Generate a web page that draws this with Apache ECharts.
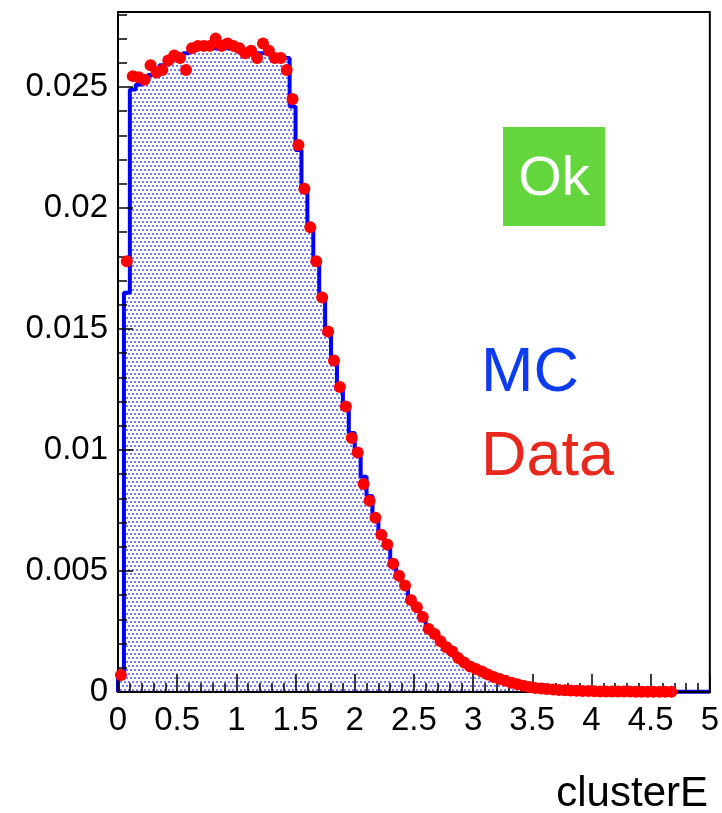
<!DOCTYPE html>
<html>
<head>
<meta charset="utf-8">
<script src="https://cdn.jsdelivr.net/npm/echarts@6/dist/echarts.min.js"></script>
<style>
  html, body { margin: 0; padding: 0; background: #fff; }
  #chart { width: 722px; height: 813px; }
</style>
</head>
<body>
<div id="chart"></div>
<script>
// 100 bins of width 0.05 from 0 to 5
const binWidth = 0.05;
const xTicks = [0, 0.5, 1, 1.5, 2, 2.5, 3, 3.5, 4, 4.5, 5];

const mcValues = [
    0.0006, 0.0165, 0.0249, 0.0251, 0.0253, 0.0255, 0.0257, 0.0259, 0.0261, 0.0262,
    0.0263, 0.0264, 0.0265, 0.0266, 0.0266, 0.0266, 0.0266, 0.0266, 0.0266, 0.0266,
    0.0265, 0.0265, 0.0265, 0.0264, 0.0264, 0.0264, 0.0263, 0.0263, 0.0262, 0.0242,
    0.0224, 0.0208, 0.0193, 0.0178, 0.0164, 0.0150, 0.0138, 0.0127, 0.0118, 0.0107,
    0.0098, 0.0089, 0.0081, 0.0073, 0.0066, 0.0060, 0.0054, 0.0048, 0.0043, 0.0039,
    0.0035, 0.0031, 0.0027, 0.0024, 0.0021, 0.0018, 0.0016, 0.0014, 0.0012, 0.00105,
    0.00092, 0.0008, 0.0007, 0.0006, 0.00052, 0.00044, 0.00037, 0.00031, 0.00026, 0.00022,
    0.00018, 0.00015, 0.00012, 0.0001, 0.00008, 0.00007, 0.00006, 0.00005, 0.00004, 0.00004,
    0.00003, 0.00003, 0.00003, 0.00002, 0.00002, 0.00002, 0.00002, 0.00002, 0.00002, 0.00002,
    0.00001, 0.00001, 0.00001, 0.00001, 0.00001, 0.00001, 0.00001, 0.00001, 0.00001, 0.00001,
];

const dataValues = [
    0.0007, 0.0178, 0.02545, 0.0254, 0.0253, 0.0259, 0.0256, 0.0257, 0.0261, 0.0263,
    0.0262, 0.0257, 0.0266, 0.0267, 0.0267, 0.0267, 0.0270, 0.0267, 0.0268, 0.0267,
    0.0266, 0.0264, 0.0265, 0.0262, 0.0268, 0.0265, 0.0262, 0.0262, 0.0257, 0.0245,
    0.0226, 0.0208, 0.0192, 0.0178, 0.0163, 0.0149, 0.0137, 0.0126, 0.0118, 0.0105,
    0.0099, 0.0086, 0.0079, 0.0072, 0.0065, 0.0061, 0.0053, 0.0048, 0.0044, 0.0038,
    0.0035, 0.0031, 0.0026, 0.0024, 0.0021, 0.00185, 0.00167, 0.0014, 0.00122, 0.00105,
    0.00095, 0.00085, 0.00072, 0.00062, 0.00054, 0.00046, 0.00038, 0.00032, 0.00026, 0.00021,
    0.00017, 0.00014, 0.00012, 0.0001, 0.00008, 0.00007, 0.00006, 0.00005, 0.00004, 0.00004,
    0.00003, 0.00002, 0.00002, 0.00002, 0.00002, 0.00002, 0.00002, 0.00001, 0.00001, 0.00001,
    0.00001, 0.00001, 0.00001, 0.00001,
];

// histogram outline: left edge of each bin, plus closing point at the end
const mcSteps = [[0, 0]];
mcValues.forEach((v, i) => mcSteps.push([i * binWidth, v]));
mcSteps.push([mcValues.length * binWidth, mcValues[mcValues.length - 1]]);

const dataPoints = dataValues.map((v, i) => [(i + 0.5) * binWidth, v]);

// ROOT-like dotted fill
const tile = document.createElement('canvas');
tile.width = 4;
tile.height = 8;
const tctx = tile.getContext('2d');
tctx.fillStyle = '#7b7bff';
tctx.fillRect(0, 1, 2, 2);
tctx.fillRect(2, 5, 2, 2);

const tickFont = { fontFamily: 'Liberation Sans', fontSize: 33, color: '#000' };
const tickLine = { color: '#000', width: 1.5 };

const chart = echarts.init(document.getElementById('chart'), null, { renderer: 'canvas' });

const option = {
    animation: false,
    grid: {
        left: 118, right: 12, top: 12, bottom: 121,
        show: true, borderColor: '#000', borderWidth: 2,
    },
    xAxis: {
        type: 'value',
        z: 3,
        min: 0, max: 5, interval: 0.5,
        axisLine: { lineStyle: { color: '#000', width: 2 } },
        axisTick: { show: true, inside: true, length: 18, lineStyle: tickLine },
        minorTick: { show: true, splitNumber: 5, length: 9, lineStyle: tickLine },
        splitLine: { show: false },
        axisLabel: {
            ...tickFont,
            margin: 12,
            customValues: xTicks,
            formatter: (v) => String(v),
        },
    },
    yAxis: [
        {
            // small ticks every 0.001, labels every 0.005
            type: 'value',
            z: 3,
            position: 'left',
            min: 0, max: 0.0281, interval: 0.001,
            axisLine: { show: true, lineStyle: { color: '#000', width: 2 } },
            axisTick: { show: true, inside: true, interval: 0, length: 9, lineStyle: tickLine },
            splitLine: { show: false },
            axisLabel: {
                ...tickFont,
                margin: 10,
                showMaxLabel: false,
                formatter: (v) => (Math.round(v * 1000) % 5 === 0 ? String(+v.toFixed(3)) : ''),
            },
        },
        {
            // longer ticks at the labelled values
            type: 'value',
            z: 3,
            position: 'left',
            min: 0, max: 0.0281, interval: 0.005,
            axisLine: { show: false },
            axisTick: { show: true, inside: true, length: 15, lineStyle: tickLine },
            axisLabel: { show: false },
            splitLine: { show: false },
        },
    ],
    graphic: [
        {
            type: 'rect',
            shape: { x: 503, y: 127, width: 102, height: 99 },
            style: { fill: '#62d63c' },
        },
        {
            type: 'text',
            style: {
                x: 554, y: 180, text: 'Ok', fill: '#fff',
                font: '56px "Liberation Sans"', align: 'center', verticalAlign: 'middle',
            },
        },
        {
            type: 'text',
            style: {
                x: 481, y: 374, text: 'MC', fill: '#0b3cf0',
                font: '63px "Liberation Sans"', align: 'left', verticalAlign: 'middle',
            },
        },
        {
            type: 'text',
            style: {
                x: 481, y: 458, text: 'Data', fill: '#e8281c',
                font: '63px "Liberation Sans"', align: 'left', verticalAlign: 'middle',
            },
        },
        {
            type: 'text',
            style: {
                x: 708, y: 794, text: 'clusterE', fill: '#000',
                font: '42px "Liberation Sans"', align: 'right', verticalAlign: 'middle',
            },
        },
    ],
    series: [
        {
            name: 'MC',
            type: 'line',
            step: 'end',
            data: mcSteps,
            showSymbol: false,
            lineStyle: { color: '#0000ff', width: 4 },
            areaStyle: { color: { image: tile, repeat: 'repeat' }, opacity: 1 },
            z: 2,
        },
        {
            name: 'Data',
            type: 'scatter',
            data: dataPoints,
            symbol: 'circle',
            symbolSize: 12,
            itemStyle: { color: '#ff0000', opacity: 1 },
            clip: false,
            z: 4,
        },
    ],
};

chart.setOption(option);
</script>
</body>
</html>
